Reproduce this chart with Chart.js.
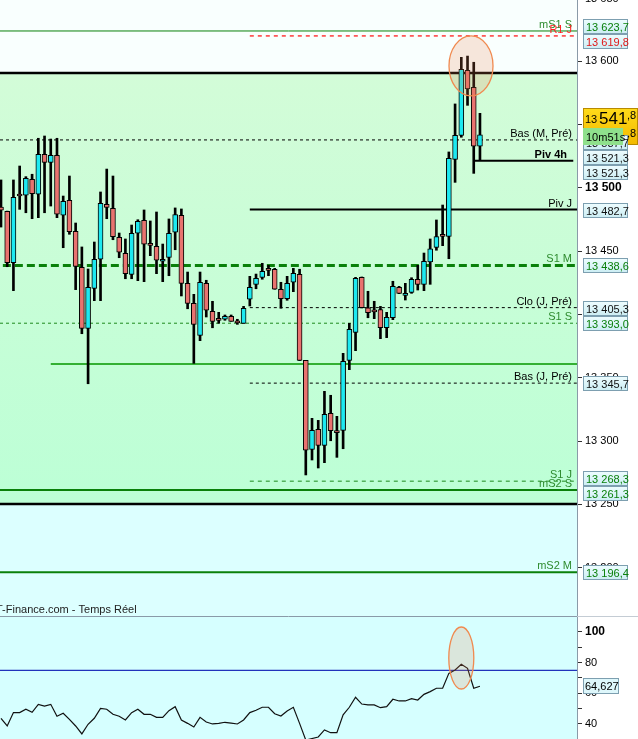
<!DOCTYPE html>
<html lang="fr">
<head>
<meta charset="UTF-8">
<title>Intraday - niveaux et RSI</title>
<script src="https://cdn.jsdelivr.net/npm/chart.js@4"></script>
<style>
    html, body { margin: 0; padding: 0; background: #fff; }
    body { width: 638px; height: 739px; overflow: hidden; }
    canvas { display: block; }
</style>
</head>
<body>
<canvas id="prix" width="638" height="616"></canvas>
<canvas id="rsi" width="638" height="123"></canvas>
<script>
// ---- données (bougies de gauche à droite) ----
const ouvertures = [13484.7, 13481.3, 13440.8, 13495.0, 13494.0, 13506.6, 13494.8, 13526.3, 13520.0, 13525.6,
    13478.2, 13490.0, 13465.5, 13437.1, 13388.9, 13420.5, 13443.5, 13486.9, 13483.7, 13460.8,
    13448.2, 13431.6, 13464.0, 13474.2, 13456.0, 13453.7, 13441.9, 13445.0, 13464.8, 13478.2,
    13424.5, 13408.7, 13383.4, 13424.5, 13402.4, 13396.8, 13396.1, 13398.4, 13394.8, 13392.9,
    13411.9, 13423.7, 13429.2, 13436.3, 13435.6, 13419.8, 13412.3, 13425.3, 13431.6, 13363.7,
    13293.4, 13309.2, 13296.6, 13321.9, 13308.2, 13308.4, 13363.7, 13385.8, 13429.2, 13405.2,
    13403.5, 13403.7, 13389.4, 13397.3, 13421.3, 13415.0, 13417.4, 13427.7, 13423.7, 13441.3,
    13452.9, 13463.2, 13461.6, 13522.4, 13541.3, 13592.7, 13579.2, 13532.7];
const plusHauts = [13506.1, 13481.5, 13506.1, 13517.1, 13508.7, 13510.6, 13539.0, 13540.8, 13538.4, 13539.0,
    13493.4, 13509.2, 13472.1, 13453.2, 13435.8, 13457.1, 13496.6, 13514.7, 13509.2, 13464.2,
    13459.5, 13470.5, 13474.7, 13482.4, 13473.7, 13480.8, 13455.5, 13475.3, 13484.0, 13483.2,
    13433.4, 13415.8, 13433.4, 13426.9, 13410.3, 13401.6, 13399.5, 13399.5, 13396.1, 13406.3,
    13430.0, 13431.8, 13440.3, 13438.7, 13436.3, 13425.3, 13430.0, 13436.3, 13435.6, 13363.7,
    13317.9, 13316.3, 13339.2, 13336.1, 13319.5, 13369.2, 13392.9, 13429.2, 13429.5, 13418.2,
    13410.3, 13406.3, 13401.6, 13426.1, 13422.1, 13424.5, 13428.9, 13438.7, 13448.4, 13459.5,
    13474.5, 13486.3, 13528.2, 13566.1, 13602.9, 13603.9, 13599.0, 13558.7];
const plusBas = [13468.9, 13437.6, 13418.7, 13482.9, 13480.2, 13475.5, 13476.3, 13480.2, 13485.5, 13476.3,
    13452.6, 13463.2, 13419.5, 13384.7, 13345.2, 13410.8, 13410.8, 13475.5, 13458.9, 13444.7,
    13428.1, 13428.1, 13426.6, 13425.8, 13446.3, 13432.1, 13425.8, 13430.5, 13451.0, 13414.5,
    13404.4, 13361.3, 13379.2, 13397.9, 13389.4, 13392.9, 13395.3, 13394.5, 13392.1, 13392.9,
    13406.6, 13420.2, 13427.7, 13430.5, 13419.8, 13404.8, 13411.1, 13417.9, 13363.5, 13273.2,
    13285.0, 13278.7, 13282.9, 13300.2, 13287.1, 13293.9, 13356.3, 13371.3, 13405.0, 13397.3,
    13396.6, 13380.8, 13381.6, 13395.8, 13416.3, 13411.3, 13416.6, 13419.2, 13418.7, 13423.7,
    13450.6, 13454.2, 13443.9, 13504.2, 13539.8, 13565.0, 13511.3, 13521.6];
const clotures = [13482.3, 13440.8, 13492.4, 13493.4, 13507.4, 13495.2, 13526.3, 13520.0, 13525.6, 13479.0,
    13489.2, 13465.2, 13437.9, 13388.9, 13421.3, 13443.5, 13487.7, 13484.5, 13461.3, 13449.0,
    13432.1, 13464.0, 13473.5, 13455.3, 13454.4, 13442.7, 13443.5, 13464.0, 13478.7, 13424.5,
    13408.7, 13392.1, 13425.3, 13403.2, 13394.5, 13395.2, 13398.4, 13394.5, 13393.2, 13404.8,
    13421.3, 13428.4, 13434.0, 13434.7, 13419.8, 13412.3, 13424.5, 13432.4, 13363.7, 13292.7,
    13308.4, 13296.6, 13321.1, 13308.1, 13306.6, 13362.9, 13388.2, 13428.4, 13405.2, 13401.3,
    13401.9, 13389.4, 13397.7, 13422.1, 13416.6, 13416.6, 13427.7, 13423.7, 13441.9, 13451.8,
    13461.3, 13461.6, 13523.2, 13541.3, 13593.4, 13577.9, 13532.7, 13541.8];
const rsi = [43.7, 38.7, 47.4, 47.4, 49.6, 47.6, 52.8, 51.7, 52.8, 45.0,
    47.0, 43.0, 38.7, 33.5, 39.8, 43.7, 50.2, 49.6, 46.3, 45.0,
    42.6, 47.4, 49.6, 46.3, 46.3, 44.3, 44.3, 48.7, 51.3, 42.6,
    40.4, 38.0, 44.3, 41.3, 40.0, 40.4, 41.1, 40.6, 40.0, 42.6,
    47.4, 48.9, 50.9, 50.9, 46.7, 45.2, 48.5, 50.9, 40.4, 29.5,
    30.5, 31.5, 36.1, 34.3, 34.3, 45.9, 50.9, 57.4, 53.0, 52.4,
    52.4, 50.6, 51.3, 56.1, 55.0, 55.0, 56.5, 55.6, 59.3, 61.1,
    63.3, 63.3, 73.0, 75.2, 78.9, 76.3, 63.3, 64.6];

// niveaux (supports / résistances)
const nomsNiveaux = ['mS1 S', 'R1 J', 'Bas (M, Pré)', 'Piv 4h', 'Piv J', 'S1 M', 'Clo (J, Pré)', 'S1 S', 'Bas (J, Pré)', 'S1 J', 'mS2 S', 'mS2 M'];
const niveaux = [13623.7, 13619.8, 13537.7, 13521.3, 13482.7, 13438.6, 13405.3, 13393.0, 13345.7, 13268.3, 13261.3, 13196.4];
const bornesZone = [13590.5, 13250.3];
const ligneVerte = 13360.8;
const dernierPrix = 13541.8;
const chrono = '10m51s';
const seuilRsi = 75;
const dernierRsi = 64.627;
const source = 'T-Finance.com - Temps Réel';

// ---- réglages d'affichage ----
const POLICE = '"Liberation Sans", Arial, sans-serif';
Chart.defaults.font.family = POLICE;
Chart.defaults.font.size = 11;
Chart.defaults.color = '#000';
const xMin = -0.16, xMax = 92.6;
const DEBUT_JOUR = 40;
const HAUSSE = '#1de9f0', BAISSE = '#e8736f';
const VERT = '#0a800a', VERT_TXT = '#2e8b2e';

const styles = {
    'mS1 S':        {c: VERT, w: 1, d: [], x0: xMin, x1: xMax, txt: VERT_TXT, box: VERT},
    'R1 J':         {c: '#ff1a1a', w: 1.3, d: [4, 4], x0: DEBUT_JOUR, x1: xMax, txt: '#ff2020', box: '#e01818'},
    'Bas (M, Pré)': {c: '#000', w: 1, d: [3, 3], x0: xMin, x1: xMax, txt: '#000', box: '#111'},
    'Piv 4h':       {c: '#000', w: 2, d: [], x0: 76, x1: 92, txt: '#000', box: '#111', bold: true, dx: -5},
    'Piv J':        {c: '#000', w: 2, d: [], x0: DEBUT_JOUR, x1: xMax, txt: '#000', box: '#111'},
    'S1 M':         {c: VERT, w: 3, d: [8, 4], x0: 0.3, x1: xMax, txt: VERT_TXT, box: VERT},
    'Clo (J, Pré)': {c: '#000', w: 1, d: [3, 3], x0: DEBUT_JOUR, x1: xMax, txt: '#000', box: '#111'},
    'S1 S':         {c: '#1e8a1e', w: 1, d: [3, 3], x0: xMin, x1: xMax, txt: VERT_TXT, box: VERT},
    'Bas (J, Pré)': {c: '#000', w: 1, d: [3, 3], x0: DEBUT_JOUR, x1: xMax, txt: '#000', box: '#111'},
    'S1 J':         {c: '#1e8a1e', w: 1, d: [4, 4], x0: DEBUT_JOUR, x1: xMax, txt: VERT_TXT, box: VERT},
    'mS2 S':        {c: VERT, w: 2, d: [], x0: xMin, x1: xMax, txt: VERT_TXT, box: VERT},
    'mS2 M':        {c: VERT, w: 2, d: [], x0: xMin, x1: xMax, txt: VERT_TXT, box: VERT}
};

const fmtPrix = v => {
    const [ent, dec] = v.toFixed(1).split('.');
    return ent.slice(0, -3) + ' ' + ent.slice(-3) + ',' + dec;
};
const fmtTick = v => String(v).slice(0, -3) + ' ' + String(v).slice(-3);

function segment(v, x0, x1, c, w, d) {
    return {
        type: 'line', data: [{x: x0, y: v}, {x: x1, y: v}],
        borderColor: c, borderWidth: w, borderDash: d,
        pointRadius: 0, tension: 0, order: 5
    };
}

function etiquette(ctx, y, texte, couleur) {
    const g = ctx.createLinearGradient(0, y - 7, 0, y + 7);
    g.addColorStop(0, '#effdff');
    g.addColorStop(1, '#cdeef4');
    ctx.fillStyle = g;
    ctx.fillRect(583, y - 7, 44, 15);
    ctx.strokeStyle = '#7d9fb0';
    ctx.lineWidth = 1;
    ctx.strokeRect(583.5, y - 6.5, 44, 14);
    ctx.fillStyle = couleur;
    ctx.font = '11px ' + POLICE;
    ctx.textAlign = 'left';
    ctx.textBaseline = 'alphabetic';
    ctx.fillText(texte, 586, y + 4.5);
}

function ellipse(ctx, cx, cy, rx, ry) {
    ctx.save();
    ctx.beginPath();
    ctx.ellipse(cx, cy, rx, ry, 0, 0, Math.PI * 2);
    ctx.fillStyle = 'rgba(236, 130, 80, 0.2)';
    ctx.fill();
    ctx.strokeStyle = '#f08a50';
    ctx.lineWidth = 1.3;
    ctx.stroke();
    ctx.restore();
}

// ---- graphique des prix ----
const idx = clotures.map((_, i) => i);
const datasetsPrix = [
    {
        type: 'bar', label: 'corps', order: 1, grouped: false,
        data: idx.map(i => ({x: i, y: [ouvertures[i], clotures[i]]})),
        backgroundColor: idx.map(i => clotures[i] >= ouvertures[i] ? HAUSSE : BAISSE),
        borderColor: '#000', borderWidth: 1, borderSkipped: false, barThickness: 5
    },
    {
        type: 'bar', label: 'meches', order: 2, grouped: false,
        data: idx.map(i => ({x: i, y: [plusBas[i], plusHauts[i]]})),
        backgroundColor: '#000', borderWidth: 0, barThickness: 2
    },
    segment(bornesZone[0], xMin, xMax, '#000', 2.5, []),
    segment(bornesZone[1], xMin, xMax, '#000', 2.5, []),
    segment(ligneVerte, 8, xMax, '#33b033', 2, [])
];
niveaux.forEach((v, k) => {
    const s = styles[nomsNiveaux[k]];
    datasetsPrix.push(segment(v, s.x0, s.x1, s.c, s.w, s.d));
});

const fondPrix = {
    id: 'fondPrix',
    beforeDraw(chart) {
        const {ctx, chartArea: a, scales: {y}} = chart;
        ctx.save();
        ctx.fillStyle = '#fff';
        ctx.fillRect(0, 0, chart.width, chart.height);
        const yh = y.getPixelForValue(bornesZone[0]);
        const yb = y.getPixelForValue(bornesZone[1]);
        ctx.fillStyle = '#f9fffe';
        ctx.fillRect(a.left, a.top, a.width, yh - a.top);
        const g = ctx.createLinearGradient(0, yh, 0, yb);
        g.addColorStop(0, '#d3fcd8');
        g.addColorStop(1, '#bcffd6');
        ctx.fillStyle = g;
        ctx.fillRect(a.left, yh, a.width, yb - yh);
        ctx.fillStyle = '#dcffff';
        ctx.fillRect(a.left, yb, a.width, a.bottom - yb);
        ctx.restore();
    },
    afterDatasetsDraw(chart) {
        const {ctx, chartArea: a, scales: {x, y}} = chart;
        ctx.save();
        ctx.textAlign = 'right';
        ctx.textBaseline = 'alphabetic';
        niveaux.forEach((v, k) => {
            const nom = nomsNiveaux[k], s = styles[nom];
            ctx.font = (s.bold ? 'bold ' : '') + '11px ' + POLICE;
            ctx.fillStyle = s.txt;
            ctx.fillText(nom, a.right - 5 + (s.dx || 0), y.getPixelForValue(v) - 3);
        });
        ctx.textAlign = 'left';
        ctx.font = '11px ' + POLICE;
        ctx.fillStyle = '#222';
        ctx.fillText(source, -4, a.bottom - 3);
        // tick du haut, à moitié hors du cadre
        ctx.fillStyle = '#000';
        ctx.fillText(fmtTick(13650), 585, y.getPixelForValue(13650) + 4);
        ctx.restore();
        // repère sur le sommet
        ellipse(ctx, x.getPixelForValue(75.56), y.getPixelForValue(13596.1), 22, 30);
    },
    afterDraw(chart) {
        const {ctx, scales: {y}} = chart;
        // étiquettes à droite, écartées pour ne pas se chevaucher
        const items = niveaux.map((v, k) => ({v, y: y.getPixelForValue(v), h: 15, s: styles[nomsNiveaux[k]]}));
        items.push({v: niveaux[3], y: y.getPixelForValue(niveaux[3]), h: 15, s: styles['Piv 4h']});
        const prix = {v: dernierPrix, y: y.getPixelForValue(dernierPrix), h: 22, prix: true};
        items.push(prix);
        items.sort((p, q) => p.y - q.y);
        for (let it = 0; it < 80; it++) {
            for (let k = 1; k < items.length; k++) {
                const p = items[k - 1], q = items[k];
                const mini = (p.h + q.h) / 2;
                if (q.y - p.y < mini) {
                    const d = (mini - (q.y - p.y)) / 2;
                    p.y -= d; q.y += d;
                }
            }
        }
        ctx.save();
        // prix courant
        const py = Math.round(prix.y);
        const g = ctx.createLinearGradient(0, py - 16, 0, py + 21);
        g.addColorStop(0, '#ffdb1a');
        g.addColorStop(1, '#f2b800');
        ctx.fillStyle = g;
        ctx.fillRect(583, py - 16, 55, 37);
        ctx.strokeStyle = '#b88a00';
        ctx.strokeRect(583.5, py - 15.5, 54, 36);
        ctx.fillStyle = '#000';
        ctx.textAlign = 'left';
        const [ent, dec] = fmtPrix(dernierPrix).split(',');
        const [mil, cent] = ent.split(' ');
        ctx.font = '11px ' + POLICE;
        ctx.fillText(mil, 585, py - 1);
        ctx.font = '17px ' + POLICE;
        ctx.fillText(cent, 599, py);
        ctx.font = '11px ' + POLICE;
        ctx.fillText(',' + dec, 627, py - 5);
        ctx.fillText(',' + dec, 627, py + 13);
        items.filter(it => !it.prix).forEach(it => etiquette(ctx, Math.round(it.y), fmtPrix(it.v), it.s.box));
        // compte à rebours
        ctx.fillStyle = '#8fe08c';
        ctx.fillRect(583, py + 4, 40, 17);
        ctx.fillStyle = '#000';
        ctx.font = '11px ' + POLICE;
        ctx.fillText(chrono, 586, py + 17);
        ctx.restore();
    }
};

new Chart(document.getElementById('prix'), {
    type: 'bar',
    data: {datasets: datasetsPrix},
    options: {
        responsive: false,
        animation: false,
        layout: {padding: 0},
        plugins: {legend: {display: false}, tooltip: {enabled: false}},
        scales: {
            x: {type: 'linear', min: xMin, max: xMax, offset: false, display: false},
            y: {
                position: 'right',
                min: 13161.85, max: 13648.16,
                afterFit: s => { s.width = 61; s.paddingTop = 0; s.paddingBottom = 0; },
                grid: {drawOnChartArea: false, tickLength: 5, tickColor: '#333'},
                border: {color: '#8a9aa8'},
                ticks: {
                    stepSize: 50, includeBounds: false, padding: 3, color: '#000',
                    callback: v => fmtTick(v),
                    font: c => (c.tick && c.tick.value === 13500)
                        ? {family: POLICE, size: 12, weight: 'bold'}
                        : {family: POLICE, size: 11, weight: 'normal'}
                }
            }
        }
    },
    plugins: [fondPrix]
});

// ---- graphique RSI ----
const fondRsi = {
    id: 'fondRsi',
    beforeDraw(chart) {
        const {ctx, chartArea: a} = chart;
        ctx.save();
        ctx.fillStyle = '#fff';
        ctx.fillRect(0, 0, chart.width, chart.height);
        ctx.fillStyle = '#d6ffff';
        ctx.fillRect(a.left, a.top, a.width, a.height);
        ctx.restore();
    },
    afterDatasetsDraw(chart) {
        const {ctx, scales: {x, y}} = chart;
        ellipse(ctx, x.getPixelForValue(74), y.getPixelForValue(83), 12.5, 31);
    },
    afterDraw(chart) {
        const {ctx, chartArea: a, scales: {y}} = chart;
        ctx.save();
        ctx.strokeStyle = '#8a9aa8';
        ctx.lineWidth = 1;
        ctx.beginPath();
        ctx.moveTo(0, 0.5);
        ctx.lineTo(a.right, 0.5);
        ctx.stroke();
        ctx.strokeStyle = '#c4ccd4';
        ctx.beginPath();
        ctx.moveTo(a.right, 0.5);
        ctx.lineTo(chart.width, 0.5);
        ctx.stroke();
        const yy = Math.round(y.getPixelForValue(dernierRsi));
        ctx.fillStyle = '#def7fb';
        ctx.fillRect(583, yy - 8, 35, 16);
        ctx.strokeStyle = '#7d9fb0';
        ctx.strokeRect(583.5, yy - 7.5, 35, 15);
        ctx.fillStyle = '#000';
        ctx.font = '11px ' + POLICE;
        ctx.textAlign = 'left';
        ctx.fillText(String(dernierRsi).replace('.', ','), 585, yy + 4);
        ctx.restore();
    }
};

new Chart(document.getElementById('rsi'), {
    type: 'line',
    data: {
        datasets: [
            {
                data: idx.map(i => ({x: i, y: rsi[i]})),
                borderColor: '#111', borderWidth: 1.2, pointRadius: 0, tension: 0
            },
            {
                data: [{x: xMin, y: seuilRsi}, {x: xMax, y: seuilRsi}],
                borderColor: '#2233bb', borderWidth: 1.3, pointRadius: 0
            }
        ]
    },
    options: {
        responsive: false,
        animation: false,
        layout: {padding: 0},
        plugins: {legend: {display: false}, tooltip: {enabled: false}},
        scales: {
            x: {type: 'linear', min: xMin, max: xMax, display: false},
            y: {
                position: 'right',
                min: 30.2, max: 110.4,
                afterFit: s => { s.width = 61; s.paddingTop = 0; s.paddingBottom = 0; },
                afterBuildTicks: s => { s.ticks = s.ticks.filter(t => t.value >= 40 && t.value <= 100); },
                grid: {drawOnChartArea: false, tickLength: 5, tickColor: '#333'},
                border: {color: '#8a9aa8'},
                ticks: {
                    stepSize: 10, includeBounds: false, padding: 3, color: '#000',
                    callback: v => (v % 20 === 0 ? String(v) : ''),
                    font: c => (c.tick && c.tick.value === 100)
                        ? {family: POLICE, size: 12, weight: 'bold'}
                        : {family: POLICE, size: 11, weight: 'normal'}
                }
            }
        }
    },
    plugins: [fondRsi]
});
</script>
</body>
</html>
